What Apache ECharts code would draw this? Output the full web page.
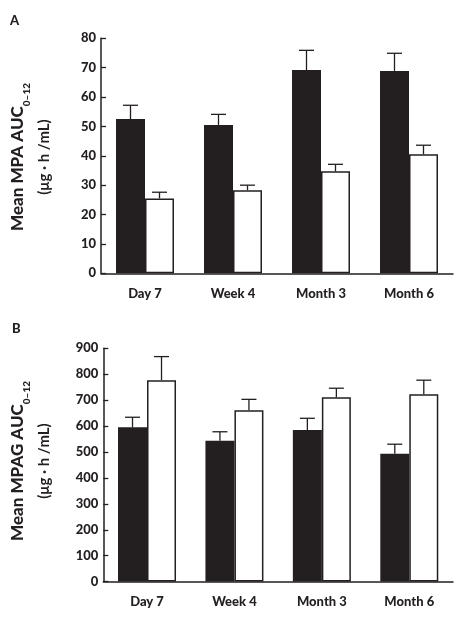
<!DOCTYPE html>
<html><head><meta charset="utf-8">
<script src="https://cdn.jsdelivr.net/npm/echarts@6/dist/echarts.min.js"></script>
<style>html,body{margin:0;padding:0;background:#fff}#c{width:460px;height:617px}</style>
</head><body><div id="c"></div>
<script>
const categories = ['Day 7', 'Week 4', 'Month 3', 'Month 6'];
const mpaBlack = [52.5, 50.5, 69.2, 68.9];
const mpaBlackSD = [4.7, 3.6, 6.7, 6.0];
const mpaWhite = [25.5, 28.3, 34.7, 40.5];
const mpaWhiteSD = [2.1, 1.7, 2.4, 3.1];
const mpagBlack = [595, 543, 585, 493];
const mpagBlackSD = [39, 35, 45, 37];
const mpagWhite = [777, 661, 711, 723];
const mpagWhiteSD = [91, 42, 35, 54];
const mpaTicks = [0, 80, 10];
const mpagTicks = [0, 900, 100];

const INK = '#231f20';
const FONT = 'Lato, "Open Sans", sans-serif';
const BW = 29;

function errSeries(mean, sd, sign, axis) {
  return {
    type: 'custom', xAxisIndex: axis, yAxisIndex: axis, z: 5,
    data: mean.map((m, i) => [i, m + sd[i], m]),
    encode: { x: 0, y: 1 },
    renderItem: function (params, api) {
      const i = api.value(0);
      const top = api.coord([i, api.value(1)]);
      const base = api.coord([i, api.value(2)]);
      const x = top[0] + sign * BW / 2;
      const st = { stroke: INK, lineWidth: 1.3 };
      return { type: 'group', children: [
        { type: 'line', shape: { x1: x, y1: base[1], x2: x, y2: top[1] }, style: st },
        { type: 'line', shape: { x1: x - 7.5, y1: top[1], x2: x + 7.5, y2: top[1] }, style: st }
      ]};
    }
  };
}

function barSeries(vals, white, axis) {
  return {
    type: 'bar', xAxisIndex: axis, yAxisIndex: axis, data: vals, barWidth: BW, barGap: '0%',
    itemStyle: white ? { color: '#fff', borderColor: INK, borderWidth: 1.5 } : { color: INK, borderColor: INK, borderWidth: 0 },
    silent: true
  };
}

function xAx(idx) {
  return {
    type: 'category', gridIndex: idx, data: categories,
    axisLine: { lineStyle: { color: INK, width: 1.5 } },
    axisTick: { show: false },
    axisLabel: { color: INK, fontFamily: FONT, fontWeight: 900, fontSize: 13, margin: 14 }
  };
}
function yAx(idx, t) {
  return {
    type: 'value', gridIndex: idx, min: t[0], max: t[1], interval: t[2],
    axisLine: { show: true, lineStyle: { color: INK, width: 1.5 } },
    axisTick: { show: true, inside: true, length: 5, lineStyle: { color: INK, width: 1.3 } },
    splitLine: { show: false },
    axisLabel: { color: INK, fontFamily: FONT, fontWeight: 900, fontSize: 13, margin: 5 }
  };
}

function yTitle(x1, x2, y, main) {
  return [
    { type: 'text', x: x1, y: y, rotation: Math.PI / 2,
      style: { text: '{m|' + main + '}{s|0–12}', align: 'center', verticalAlign: 'middle',
        rich: { m: { fontSize: 17, fontWeight: 900, fontFamily: FONT, fill: INK, color: INK, lineHeight: 20 },
                s: { fontSize: 10, fontWeight: 900, fontFamily: FONT, fill: INK, color: INK, verticalAlign: 'bottom', lineHeight: 20, padding: [0, 0, -4, 0] } } } },
    { type: 'text', x: x2, y: y, rotation: Math.PI / 2,
      style: { text: '(μg · h /mL)', align: 'center', verticalAlign: 'middle', fontSize: 15, fontWeight: 'bold', fontFamily: FONT, fill: INK } }
  ];
}

const chart = echarts.init(document.getElementById('c'));
chart.setOption({
  animation: false,
  grid: [
    { left: 101, right: 7, top: 38.3, height: 235 },
    { left: 103.3, right: 7, top: 348.3, height: 233.3 }
  ],
  xAxis: [xAx(0), xAx(1)],
  yAxis: [yAx(0, mpaTicks), yAx(1, mpagTicks)],
  series: [
    barSeries(mpaBlack, false, 0), barSeries(mpaWhite, true, 0),
    errSeries(mpaBlack, mpaBlackSD, -1, 0), errSeries(mpaWhite, mpaWhiteSD, 1, 0),
    barSeries(mpagBlack, false, 1), barSeries(mpagWhite, true, 1),
    errSeries(mpagBlack, mpagBlackSD, -1, 1), errSeries(mpagWhite, mpagWhiteSD, 1, 1)
  ],
  graphic: [
    { type: 'text', x: 10, y: 14, style: { text: 'A', fontSize: 13, fontWeight: 900, fontFamily: FONT, fill: INK } },
    { type: 'text', x: 12, y: 322, style: { text: 'B', fontSize: 13, fontWeight: 900, fontFamily: FONT, fill: INK } }
  ].concat(yTitle(18, 44, 157, 'Mean MPA AUC'), yTitle(18, 44, 461, 'Mean MPAG AUC'))
});
</script></body></html>
